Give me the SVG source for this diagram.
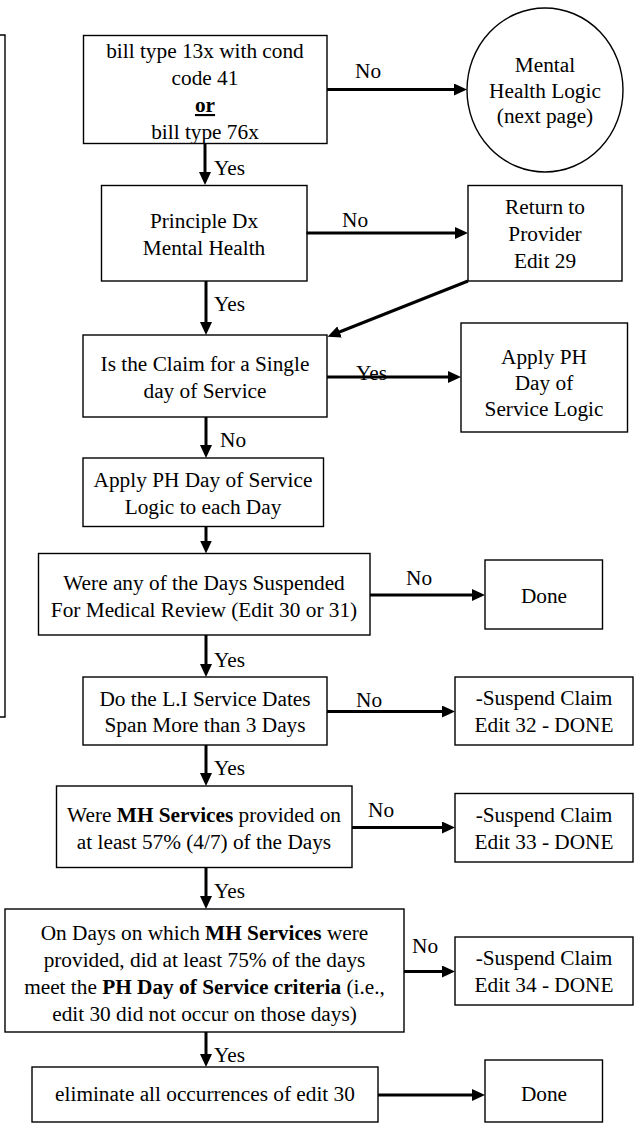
<svg xmlns="http://www.w3.org/2000/svg" width="634" height="1123" viewBox="0 0 634 1123">
<style>
  .box{fill:#fff;stroke:#000;stroke-width:1.4}
  .frame{fill:none;stroke:#000;stroke-width:1.4}
  text{font-family:"Liberation Serif","Times New Roman",serif;font-size:21.3px;fill:#000}
  .c{text-anchor:middle}
  .b{font-weight:bold}
  .edge{stroke:#000;stroke-width:3;fill:none;marker-end:url(#ah)}
</style>
<defs>
  <marker id="ah" markerUnits="userSpaceOnUse" viewBox="0 0 13 12" refX="7" refY="6" markerWidth="13" markerHeight="12" orient="auto">
    <path d="M0,0L13,6L0,12z" fill="#000"/>
  </marker>
</defs>
<rect width="634" height="1123" fill="#fff"/>

<!-- side frame running off the left edge -->
<path class="frame" d="M0,35H5V717H0"/>

<g id="bill-type">
  <rect class="box" x="83.5" y="35.5" width="243.5" height="108"/>
  <text class="c" x="205" y="58">bill type 13x with cond</text>
  <text class="c" x="205" y="85">code 41</text>
  <text class="c b" x="205" y="112" text-decoration="underline">or</text>
  <text class="c" x="205" y="139">bill type 76x</text>
</g>

<g id="mental-health-logic">
  <ellipse class="box" cx="545" cy="90" rx="78" ry="82"/>
  <text class="c" x="545" y="72">Mental</text>
  <text class="c" x="545" y="98">Health Logic</text>
  <text class="c" x="545" y="123">(next page)</text>
</g>

<g id="principle-dx">
  <rect class="box" x="101.5" y="185.5" width="205.5" height="95.5"/>
  <text class="c" x="204" y="227.5">Principle Dx</text>
  <text class="c" x="204" y="254.5">Mental Health</text>
</g>

<g id="return-to-provider">
  <rect class="box" x="468" y="185.5" width="154" height="95.5"/>
  <text class="c" x="545" y="214">Return to</text>
  <text class="c" x="545" y="241">Provider</text>
  <text class="c" x="545" y="268">Edit 29</text>
</g>

<g id="single-day">
  <rect class="box" x="83" y="335" width="244" height="82"/>
  <text class="c" x="205" y="371">Is the Claim for a Single</text>
  <text class="c" x="205" y="398">day of Service</text>
</g>

<g id="apply-ph-single">
  <rect class="box" x="461" y="323" width="166.5" height="109"/>
  <text class="c" x="544" y="364">Apply PH</text>
  <text class="c" x="544" y="390">Day of</text>
  <text class="c" x="544" y="416">Service Logic</text>
</g>

<g id="apply-ph-each">
  <rect class="box" x="83" y="458" width="240.5" height="68.5"/>
  <text class="c" x="203" y="487">Apply PH Day of Service</text>
  <text class="c" x="203" y="514">Logic to each Day</text>
</g>

<g id="days-suspended">
  <rect class="box" x="38.5" y="553.5" width="331.5" height="81.5"/>
  <text class="c" x="204" y="590">Were any of the Days Suspended</text>
  <text class="c" x="204" y="617">For Medical Review (Edit 30 or 31)</text>
</g>

<g id="done-1">
  <rect class="box" x="485" y="560" width="117.5" height="69"/>
  <text class="c" x="544" y="603">Done</text>
</g>

<g id="span-3-days">
  <rect class="box" x="83" y="677" width="244" height="68"/>
  <text class="c" x="205" y="705.5">Do the L.I Service Dates</text>
  <text class="c" x="205" y="732">Span More than 3 Days</text>
</g>

<g id="suspend-32">
  <rect class="box" x="455" y="677" width="178" height="68"/>
  <text class="c" x="544" y="705">-Suspend Claim</text>
  <text class="c" x="544" y="732">Edit 32 - DONE</text>
</g>

<g id="mh-57">
  <rect class="box" x="56.5" y="786" width="295.5" height="81.5"/>
  <text class="c" x="204" y="821.5">Were <tspan class="b">MH Services</tspan> provided on</text>
  <text class="c" x="204" y="848.5">at least 57% (4/7) of the Days</text>
</g>

<g id="suspend-33">
  <rect class="box" x="455" y="793.5" width="178" height="68.5"/>
  <text class="c" x="544" y="821.5">-Suspend Claim</text>
  <text class="c" x="544" y="848.5">Edit 33 - DONE</text>
</g>

<g id="ph-75">
  <rect class="box" x="5" y="909" width="399" height="123"/>
  <text class="c" x="204.5" y="940">On Days on which <tspan class="b">MH Services</tspan> were</text>
  <text class="c" x="204.5" y="967">provided, did at least 75% of the days</text>
  <text class="c" x="204.5" y="994">meet the <tspan class="b">PH Day of Service criteria</tspan> (i.e.,</text>
  <text class="c" x="204.5" y="1021">edit 30 did not occur on those days)</text>
</g>

<g id="suspend-34">
  <rect class="box" x="455" y="937" width="178" height="68"/>
  <text class="c" x="544" y="965">-Suspend Claim</text>
  <text class="c" x="544" y="992">Edit 34 - DONE</text>
</g>

<g id="eliminate-30">
  <rect class="box" x="32" y="1067" width="346" height="55"/>
  <text class="c" x="205" y="1101">eliminate all occurrences of edit 30</text>
</g>

<g id="done-2">
  <rect class="box" x="485" y="1060" width="117.5" height="62"/>
  <text class="c" x="544" y="1101">Done</text>
</g>

<g id="connectors">
  <text x="355" y="78">No</text>
  <path class="edge" d="M327,89.5H461"/>
  <text x="214" y="175">Yes</text>
  <path class="edge" d="M205,143.5V179"/>
  <text x="342" y="227">No</text>
  <path class="edge" d="M306.5,233H462"/>
  <path class="edge" d="M468,281L333.1,334.5"/>
  <text x="214" y="311">Yes</text>
  <path class="edge" d="M206,281V329"/>
  <text x="356" y="380">Yes</text>
  <path class="edge" d="M327,377H455"/>
  <text x="220" y="447">No</text>
  <path class="edge" d="M206,417V452"/>
  <path class="edge" d="M206,527V547.5"/>
  <text x="406" y="585">No</text>
  <path class="edge" d="M370,595H479"/>
  <text x="214" y="667">Yes</text>
  <path class="edge" d="M206,635V671"/>
  <text x="356" y="707">No</text>
  <path class="edge" d="M327,711.5H449"/>
  <text x="214" y="775">Yes</text>
  <path class="edge" d="M206,745V780"/>
  <text x="368" y="817">No</text>
  <path class="edge" d="M352,827.5H449"/>
  <text x="214" y="898">Yes</text>
  <path class="edge" d="M206,867.5V903"/>
  <text x="412" y="953">No</text>
  <path class="edge" d="M404,971.5H449"/>
  <text x="214" y="1062">Yes</text>
  <path class="edge" d="M206,1032V1061"/>
  <path class="edge" d="M378,1095H479"/>
</g>
</svg>
